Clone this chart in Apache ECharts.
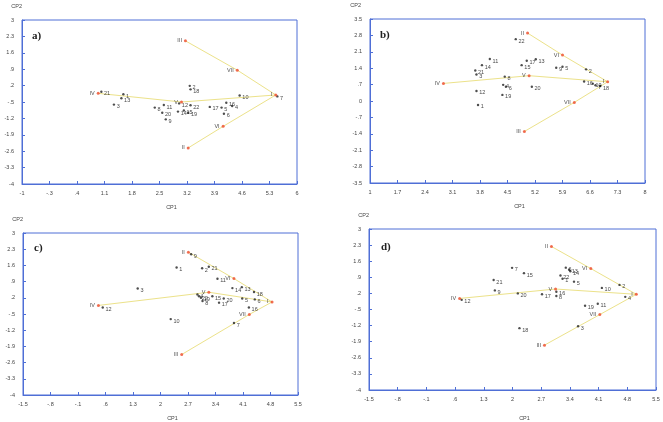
<!DOCTYPE html>
<html>
<head>
<meta charset="utf-8">
<script src="https://cdn.jsdelivr.net/npm/echarts@6/dist/echarts.min.js"></script>
<style>
  html, body { margin: 0; padding: 0; background: #fff; }
  #chart { width: 663px; height: 422px; }
</style>
</head>
<body>
<div id="chart"></div>
<script>
// tick values per panel
var xTicksA = [-1, -0.3, 0.4, 1.1, 1.8, 2.5, 3.2, 3.9, 4.6, 5.3, 6];
var yTicksA = [-4, -3.3, -2.6, -1.9, -1.2, -0.5, 0.2, 0.9, 1.6, 2.3, 3];
var xTicksB = [1, 1.7, 2.4, 3.1, 3.8, 4.5, 5.2, 5.9, 6.6, 7.3, 8];
var yTicksB = [-3.5, -2.8, -2.1, -1.4, -0.7, 0, 0.7, 1.4, 2.1, 2.8, 3.5];
var xTicksC = [-1.5, -0.8, -0.1, 0.6, 1.3, 2, 2.7, 3.4, 4.1, 4.8, 5.5];
var yTicksC = [-4, -3.3, -2.6, -1.9, -1.2, -0.5, 0.2, 0.9, 1.6, 2.3, 3];
var xTicksD = [-1.5, -0.8, -0.1, 0.6, 1.3, 2, 2.7, 3.4, 4.1, 4.8, 5.5];
var yTicksD = [-4, -3.3, -2.6, -1.9, -1.2, -0.5, 0.2, 0.9, 1.6, 2.3, 3];

// genotypes [label, CP1, CP2]
var genosA = [
  ['1', 1.58, -0.17], ['2', 3.27, 0.19], ['3', 1.34, -0.61], ['4', 4.35, -0.67],
  ['5', 4.08, -0.74], ['6', 4.14, -1.0], ['7', 5.5, -0.26], ['8', 2.38, -0.74],
  ['9', 2.66, -1.24], ['10', 4.54, -0.22], ['11', 2.61, -0.63], ['12', 3.0, -0.56],
  ['13', 1.53, -0.34], ['14', 2.97, -0.91], ['15', 3.12, -0.86], ['16', 4.2, -0.53],
  ['17', 3.78, -0.71], ['18', 3.29, 0.04], ['19', 3.23, -0.96], ['20', 2.57, -0.96],
  ['21', 1.02, -0.06], ['22', 3.29, -0.64]
];
var genosB = [
  ['1', 3.75, -0.17], ['2', 6.5, 1.35], ['3', 3.71, 1.13], ['4', 4.39, 0.69],
  ['5', 5.9, 1.46], ['6', 4.46, 0.61], ['7', 6.74, 0.67], ['8', 4.43, 1.04],
  ['9', 5.74, 1.42], ['10', 6.67, 0.74], ['11', 4.05, 1.79], ['12', 3.71, 0.43],
  ['13', 5.22, 1.78], ['14', 3.85, 1.53], ['15', 4.86, 1.53], ['16', 6.45, 0.83],
  ['17', 4.99, 1.72], ['18', 6.86, 0.64], ['19', 4.37, 0.26], ['20', 5.12, 0.61],
  ['21', 3.68, 1.3], ['22', 4.71, 2.64]
];
var genosC = [
  ['1', 2.41, 1.51], ['2', 3.06, 1.48], ['3', 1.42, 0.6], ['4', 2.94, 0.34],
  ['5', 4.08, 0.17], ['6', 4.4, 0.13], ['7', 3.87, -0.89], ['8', 3.07, 0.06],
  ['9', 2.78, 2.08], ['10', 2.26, -0.72], ['11', 3.45, 1.02], ['12', 0.53, -0.22],
  ['13', 4.07, 0.66], ['14', 3.83, 0.62], ['15', 3.32, 0.27], ['16', 4.25, -0.22],
  ['17', 3.49, -0.01], ['18', 4.38, 0.45], ['19', 3.03, 0.2], ['20', 3.61, 0.17],
  ['21', 3.23, 1.54], ['22', 2.98, 0.27]
];
var genosD = [
  ['1', 3.22, 0.84], ['2', 4.61, 0.57], ['3', 3.6, -1.23], ['4', 4.75, 0.05],
  ['5', 3.5, 0.71], ['6', 3.3, 1.32], ['7', 1.99, 1.31], ['8', 3.07, 0.09],
  ['9', 1.57, 0.33], ['10', 4.18, 0.44], ['11', 4.08, -0.25], ['12', 0.76, -0.08],
  ['13', 3.38, 1.23], ['14', 3.41, 1.16], ['15', 2.28, 1.08], ['16', 3.07, 0.27],
  ['17', 2.72, 0.16], ['18', 2.17, -1.31], ['19', 3.77, -0.34], ['20', 2.13, 0.2],
  ['21', 1.54, 0.78], ['22', 3.17, 0.98]
];

// environments [label, CP1, CP2]
var envsA = [['I', 5.46, -0.2], ['II', 3.23, -2.46], ['III', 3.16, 2.11], ['IV', 0.94, -0.13],
  ['V', 3.06, -0.5], ['VI', 4.12, -1.54], ['VII', 4.48, 0.86]];
var envsB = [['I', 7.05, 0.82], ['II', 5.01, 2.9], ['III', 4.93, -1.3], ['IV', 2.87, 0.75],
  ['V', 5.05, 1.08], ['VI', 5.9, 1.96], ['VII', 6.2, -0.06]];
var envsC = [['I', 4.84, 0.02], ['II', 2.71, 2.17], ['III', 2.54, -2.25], ['IV', 0.42, -0.13],
  ['V', 3.23, 0.44], ['VI', 3.87, 1.03], ['VII', 4.26, -0.52]];
var envsD = [['I', 5.02, 0.16], ['II', 2.95, 2.24], ['III', 2.78, -2.05], ['IV', 0.71, -0.02],
  ['V', 3.05, 0.39], ['VI', 3.91, 1.28], ['VII', 4.13, -0.72]];

// yellow paths, by environment name
var pathsA = [['III', 'VII', 'I'], ['IV', 'V', 'I'], ['II', 'VI', 'I']];
var pathsB = [['II', 'VI', 'I'], ['IV', 'V', 'I'], ['III', 'VII', 'I']];
var pathsC = [['II', 'VI', 'I'], ['IV', 'V', 'I'], ['III', 'VII', 'I']];
var pathsD = [['II', 'VI', 'I'], ['IV', 'V', 'I'], ['III', 'VII', 'I']];

var panels = [
  {tag: 'a)', xt: xTicksA, yt: yTicksA, genos: genosA, envs: envsA, paths: pathsA,
   grid: {left: 22, top: 20, width: 275, height: 164}, cp2: 0, cp1Gap: 20, tag_at: [10, 11]},
  {tag: 'b)', xt: xTicksB, yt: yTicksB, genos: genosB, envs: envsB, paths: pathsB,
   grid: {left: 370, top: 19, width: 275, height: 164}, cp2: 9, cp1Gap: 20, tag_at: [10, 11]},
  {tag: 'c)', xt: xTicksC, yt: yTicksC, genos: genosC, envs: envsC, paths: pathsC,
   grid: {left: 23, top: 233, width: 275, height: 164}, cp2: 0, cp1Gap: 20, tag_at: [11, 10]},
  {tag: 'd)', xt: xTicksD, yt: yTicksD, genos: genosD, envs: envsD, paths: pathsD,
   grid: {left: 369, top: 229, width: 287, height: 173}, cp2: 0, cp1Gap: 25, tag_at: [12, 13]}
];

var blue = '#4f6fd6';
function fmt(v) {
  var s = String(+(+v).toFixed(1));
  return s.replace(/^(-?)0\./, '$1.');
}

var option = {
  animation: false,
  backgroundColor: '#fff',
  textStyle: {fontFamily: 'Liberation Sans'},
  title: [], grid: [], xAxis: [], yAxis: [], series: []
};

panels.forEach(function (p, i) {
  option.grid.push(Object.assign({show: true, borderColor: blue, borderWidth: 1}, p.grid));
  option.title.push({
    text: p.tag, left: p.grid.left + p.tag_at[0], top: p.grid.top + p.tag_at[1], padding: 0,
    textStyle: {fontFamily: 'Liberation Serif', fontWeight: 'bold', fontSize: 11, color: '#222'}
  });
  var axisCommon = {
    type: 'value', splitLine: {show: false},
    axisLine: {show: true, onZero: false, lineStyle: {color: blue, width: 1}},
    axisTick: {show: true, inside: true, length: 3, lineStyle: {color: blue}},
    axisLabel: {fontSize: 5.5, color: '#444', formatter: fmt},
    nameTextStyle: {fontSize: 5.5, color: '#444'}
  };
  option.xAxis.push(echarts.util.merge({
    gridIndex: i, min: p.xt[0], max: p.xt[p.xt.length - 1],
    name: 'CP1', nameLocation: 'middle', nameGap: p.cp1Gap,
    nameTextStyle: {padding: [0, 0, 0, 24]},
    axisLabel: {customValues: p.xt, margin: 6},
    axisTick: {customValues: p.xt}
  }, axisCommon, false));
  option.yAxis.push(echarts.util.merge({
    gridIndex: i, min: p.yt[0], max: p.yt[p.yt.length - 1],
    name: 'CP2', nameLocation: 'end', nameGap: 11,
    nameTextStyle: {align: 'right', padding: [0, p.cp2, 0, 0]},
    axisLabel: {customValues: p.yt, margin: 8},
    axisTick: {customValues: p.yt}
  }, axisCommon, false));

  var lookup = {};
  p.envs.forEach(function (e) { lookup[e[0]] = [e[1], e[2]]; });
  p.paths.forEach(function (path) {
    option.series.push({
      type: 'line', xAxisIndex: i, yAxisIndex: i, symbol: 'none', silent: true,
      lineStyle: {color: '#ece28a', width: 1},
      data: path.map(function (n) { return lookup[n]; }), z: 1
    });
  });
  option.series.push({
    type: 'scatter', xAxisIndex: i, yAxisIndex: i, symbolSize: 2.4,
    itemStyle: {color: '#222'},
    data: p.genos.map(function (g) { return {name: g[0], value: [g[1], g[2]]}; }),
    label: {show: true, position: 'right', distance: 1.5, offset: [0, 2],
      formatter: '{b}', fontSize: 5.5, color: '#111'},
    z: 3
  });
  option.series.push({
    type: 'scatter', xAxisIndex: i, yAxisIndex: i, symbolSize: 3,
    itemStyle: {color: '#ee4a2a'},
    data: p.envs.map(function (e) { return {name: e[0], value: [e[1], e[2]]}; }),
    label: {show: true, position: 'left', distance: 2,
      formatter: '{b}', fontSize: 5.5, color: '#222'},
    z: 4
  });
});

var myChart = echarts.init(document.getElementById('chart'));
myChart.setOption(option);
</script>
</body>
</html>
